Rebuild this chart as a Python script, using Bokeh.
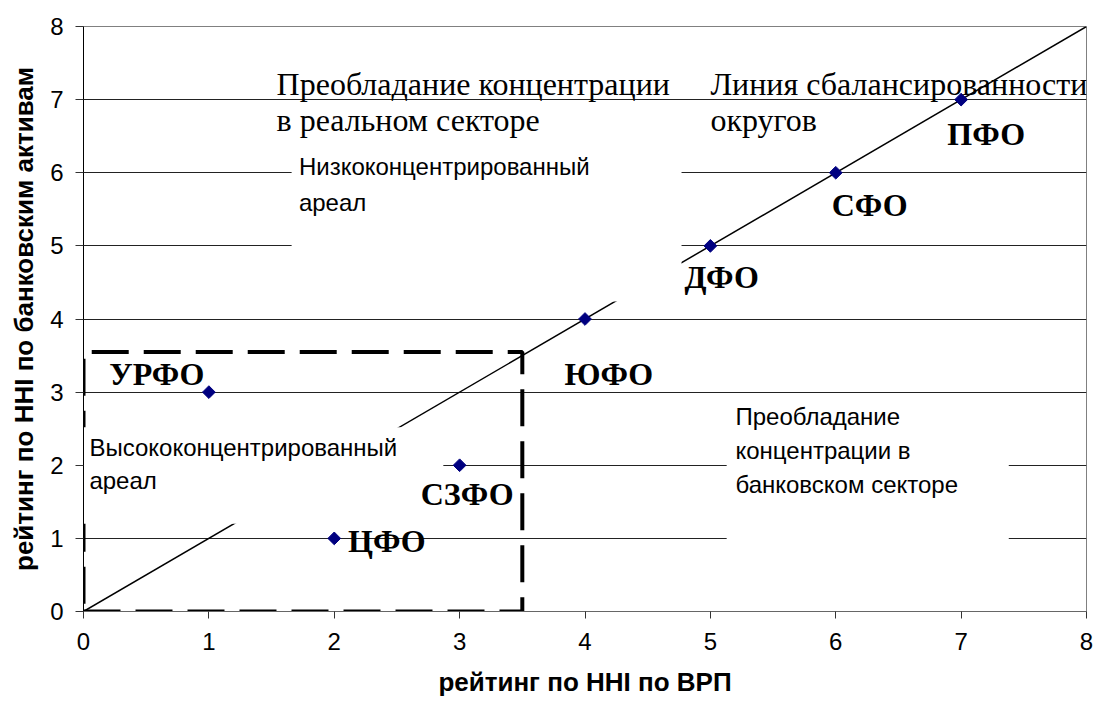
from bokeh.plotting import figure
from bokeh.models import Range1d, FixedTicker, ColumnDataSource
from bokeh.core.properties import value
from bokeh.embed import file_html
from bokeh.resources import INLINE
import math

# ---- data ----
districts = ["УРФО", "ЦФО", "СЗФО", "ЮФО", "ДФО", "СФО", "ПФО"]
hhi_grp_rank = [1, 2, 3, 4, 5, 6, 7]
hhi_bank_rank = [3, 1, 2, 4, 5, 6, 7]
tick_values = [0, 1, 2, 3, 4, 5, 6, 7, 8]
x_title = "рейтинг по ННI по ВРП"
y_title = "рейтинг по ННI по банковским активам"

# label anchor positions (data coords)
label_x = [0.585, 2.42, 3.06, 4.19, 5.09, 6.27, 7.2]
label_y = [3.25, 0.97, 1.61, 3.25, 4.58, 5.56, 6.53]

balance_line = [0, 8]
dense_zone_x = [0, 3.5]
dense_zone_y = [0, 3.55]

SANS = "Liberation Sans"
SERIF = "Liberation Serif"

p = figure(width=1095, height=704, output_backend="svg", toolbar_location=None,
           x_range=Range1d(0, 8), y_range=Range1d(0, 8),
           min_border_left=83, min_border_right=9, min_border_top=26, min_border_bottom=93)
p.background_fill_color = "white"
p.border_fill_color = "white"
p.outline_line_color = "#808080"
p.outline_line_width = 1

p.xgrid.visible = False
p.ygrid.ticker = FixedTicker(ticks=tick_values)
p.ygrid.grid_line_color = "#222222"
p.ygrid.grid_line_width = 1

for ax in (p.xaxis[0], p.yaxis[0]):
    ax.ticker = FixedTicker(ticks=tick_values)
    ax.minor_tick_line_color = None
    ax.major_tick_in = 0
    ax.major_label_text_font = SANS
    ax.major_label_text_font_size = "24px"
    ax.major_label_text_color = "black"
    ax.axis_label_text_font = SANS
    ax.axis_label_text_font_style = "bold"
    ax.axis_label_text_font_size = "26px"
    ax.axis_label_text_color = "black"

p.xaxis.axis_label = x_title
p.yaxis.axis_label = y_title
p.xaxis.major_tick_out = 7
p.yaxis.major_tick_out = 8
p.xaxis.axis_line_color = "#666666"
p.xaxis.major_tick_line_color = "#333333"
p.yaxis.axis_line_color = "black"
p.yaxis.major_tick_line_color = "#333333"
p.xaxis.major_label_standoff = 14
p.yaxis.major_label_standoff = 12
p.xaxis.axis_label_standoff = 14
p.yaxis.axis_label_standoff = 8

# balance line
p.line(balance_line, balance_line, line_color="black", line_width=1.5)

# dashed high-concentration zone
zx = [dense_zone_x[0], dense_zone_x[1], dense_zone_x[1], dense_zone_x[0], dense_zone_x[0]]
zy = [dense_zone_y[0], dense_zone_y[0], dense_zone_y[1], dense_zone_y[1], dense_zone_y[0]]
p.line(zx, zy, line_color="black", line_width=4, line_dash="37 15")

# white text boxes
box_left = [1.66, -0.05, 5.13]
box_right = [4.77, 2.87, 7.38]
box_bottom = [4.24, 1.2, 0.8]
box_top = [6.45, 2.52, 2.9]
p.quad(left=box_left, right=box_right, bottom=box_bottom, top=box_top,
       fill_color="white", line_color=None)

# points
p.scatter(hhi_grp_rank, hhi_bank_rank, marker="square", angle=math.pi / 4, size=9,
          fill_color="#000080", line_color="#000080")

# district labels
src = ColumnDataSource(dict(x=label_x, y=label_y, t=districts))
p.text("x", "y", text="t", source=src, text_font=value(SERIF), text_font_style="bold",
       text_font_size="32px", text_align="center", text_baseline="middle", text_color="black")

# sans annotations
sans_text = ["Низкоконцентрированный", "ареал",
             "Высококонцентрированный", "ареал",
             "Преобладание", "концентрации в", "банковском  секторе"]
sans_x = [1.718, 1.718, 0.047, 0.047, 5.2, 5.2, 5.2]
sans_y = [6.08, 5.6, 2.24, 1.79, 2.66, 2.2, 1.73]
p.text(sans_x, sans_y, text=sans_text, text_font=value(SANS), text_font_size="24px",
       text_align="left", text_baseline="middle", text_color="black")

# serif annotations
serif_text = ["Преобладание концентрации", "в реальном секторе",
              "Линия сбалансированности", "округов"]
serif_x = [1.54, 1.54, 5.0, 5.0]
serif_y = [7.22, 6.72, 7.22, 6.72]
p.text(serif_x, serif_y, text=serif_text, text_font=value(SERIF), text_font_size="32px",
       text_align="left", text_baseline="middle", text_color="black")

open("out.html", "w").write(file_html(p, INLINE))
